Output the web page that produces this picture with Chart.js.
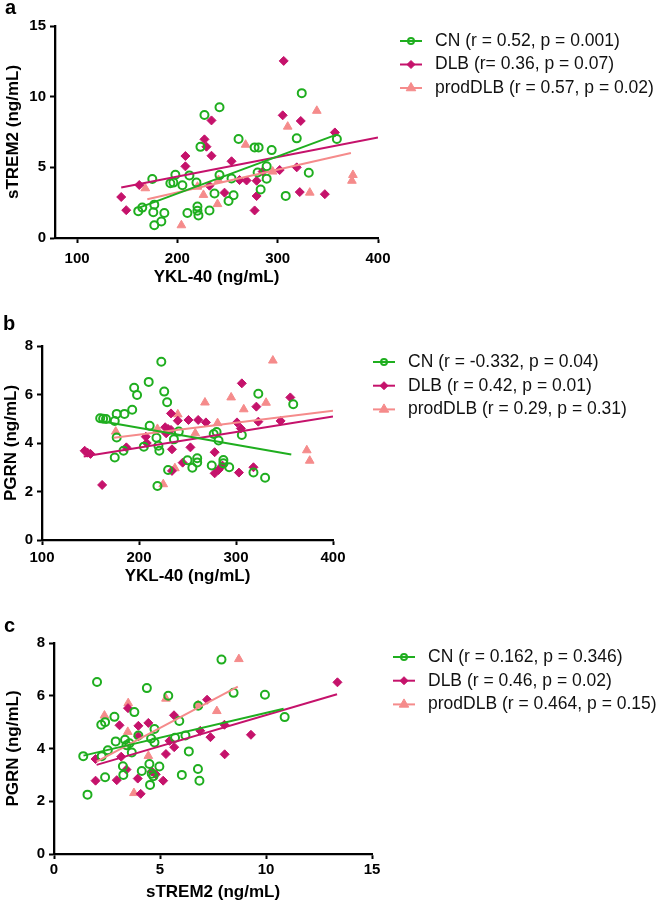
<!DOCTYPE html>
<html>
<head>
<meta charset="utf-8">
<script src="https://cdn.jsdelivr.net/npm/chart.js@4.4.0/dist/chart.umd.min.js"></script>
<style>
  body { margin: 0; background: #fff; }
  #wrap { position: relative; width: 660px; height: 903px; }
  canvas { position: absolute; left: 0; }
</style>
</head>
<body>
<div id="wrap">
  <canvas id="chartA" width="660" height="290" style="top:0px"></canvas>
  <canvas id="chartB" width="660" height="300" style="top:290px"></canvas>
  <canvas id="chartC" width="660" height="313" style="top:590px"></canvas>
</div>
<script>
// ---- panel a: YKL-40 vs sTREM2 ----
const cnYklA = [161,165,175,176,177,177,184,187,193,196,198,205,210,212,219,220,220,221,223,227,232,237,242,242,251,254,256,261,277,281,280,283,289,289,294,308,319,324,331,359]
const cnStremA = [1.9,2.15,4.17,1.82,2.36,0.9,1.17,1.77,3.87,3.92,4.47,3.73,1.77,4.43,3.92,2.22,1.93,1.6,6.45,8.7,1.95,3.15,9.25,4.45,2.62,4.21,3.02,7.0,6.41,6.41,4.63,3.43,5.07,4.2,6.22,2.98,7.05,10.25,4.62,7.0]
const dlbYklA = [144,149,162,208,208,227,229,234,234,232,247,254,262,269,279,279,277,285,302,305,306,319,322,323,347,357]
const dlbStremA = [2.9,1.97,3.75,5.8,5.07,6.98,6.46,8.32,5.82,3.7,3.21,5.43,4.1,4.07,4.05,2.97,1.95,4.7,4.81,8.68,12.53,5.0,3.25,8.28,3.1,7.47]
const prodYklA = [168,204,220,226,240,241,268,295,310,332,339,374,375]
const prodStremA = [3.52,0.9,3.63,3.05,2.4,4.1,6.6,4.7,7.88,3.21,9.0,4.05,4.46]
// regression line end points
const fitCnAX = [162,358], fitCnAY = [2.15,7.3]
const fitDlbAX = [144,400], fitDlbAY = [3.57,7.11]
const fitProdAX = [170,373], fitProdAY = [2.74,6.02]
const legendA = ['CN (r = 0.52, p = 0.001)', 'DLB (r= 0.36, p = 0.07)', 'prodDLB (r = 0.57, p = 0.02)']
const xTicksA = [100,200,300,400]
const yTicksA = [0,5,10,15]

// ---- panel b: YKL-40 vs PGRN ----
const cnYklB = [160,163,166,175,177,177,175,185,184,193,195,198,210,211,205,218,220,221,219,223,226,229,230,236,241,250,255,260,260,275,277,280,282,287,287,293,306,318,323,330,359]
const cnPgrnB = [5.02,5.0,4.99,4.91,5.2,4.23,3.4,5.2,3.68,5.37,6.28,5.98,6.52,4.71,3.85,4.22,3.89,3.68,2.23,7.35,6.12,5.68,2.89,4.15,4.47,3.29,2.98,3.37,3.2,3.07,4.37,4.45,4.1,3.3,3.16,3.0,4.33,2.78,6.03,2.57,5.6]
const dlbYklB = [144,147,150,162,187,207,208,227,228,230,233,233,234,234,240,245,251,253,261,269,278,278,282,286,301,303,306,305,318,321,323,346,356]
const dlbPgrnB = [3.68,3.6,3.55,2.27,3.82,4.26,4.0,4.65,4.4,4.58,5.22,4.54,3.74,2.85,4.92,3.19,4.95,3.82,4.95,4.85,3.62,2.75,2.89,3.07,4.85,2.78,6.46,4.6,3.0,5.5,4.88,4.91,5.88]
const prodYklB = [176,219,225,237,240,258,268,281,295,308,331,338,373,376]
const prodPgrnB = [4.47,4.58,2.3,2.96,5.18,4.4,5.67,4.82,5.88,5.39,5.66,7.4,3.7,3.27]
const fitCnBX = [160,357], fitCnBY = [4.91,3.53]
const fitDlbBX = [143,400], fitDlbBY = [3.44,5.09]
const fitProdBX = [174,400], fitProdBY = [4.22,5.33]
const legendB = ['CN (r = -0.332, p = 0.04)', 'DLB (r = 0.42, p = 0.01)', 'prodDLB (r = 0.29, p = 0.31)']
const xTicksB = [100,200,300,400]
const yTicksB = [0,2,4,6,8]

// ---- panel c: sTREM2 vs PGRN ----
const cnStremC = [1.38,1.58,2.03,2.23,2.25,2.41,2.41,2.54,2.85,2.91,3.25,3.27,3.35,3.42,3.56,3.67,3.79,3.98,4.14,4.38,4.5,4.58,4.53,4.61,4.69,4.74,4.74,4.97,5.39,5.71,5.91,6.2,6.03,6.36,6.79,6.8,6.86,7.9,8.47,9.95,10.88]
const cnPgrnC = [3.71,2.25,6.52,4.9,3.71,5.0,2.91,3.93,5.2,4.27,3.33,3.0,4.33,4.12,4.2,3.85,5.38,4.49,3.15,6.29,3.41,4.38,2.62,3.04,2.95,4.74,4.23,3.32,6.0,4.41,5.04,4.49,3.0,3.89,3.22,5.62,2.78,7.37,6.11,6.04,5.19]
const dlbStremC = [1.96,1.96,2.96,3.09,3.17,3.49,3.42,3.95,3.98,3.98,4.09,4.45,4.61,4.8,5.15,5.28,5.45,5.66,5.67,6.9,7.22,7.38,8.04,8.05,9.29,13.37]
const dlbPgrnC = [3.6,2.78,2.8,4.88,3.69,5.53,3.2,2.86,4.86,4.46,2.28,4.97,3.13,3.02,2.78,3.79,4.29,5.26,4.05,4.67,5.85,4.43,4.9,3.78,4.52,6.51]
const prodStremC = [2.38,3.5,3.48,3.77,4.45,5.28,6.8,7.68,8.72]
const prodPgrnC = [5.25,5.72,4.63,2.31,3.72,5.89,5.65,5.42,7.39]
const fitCnCX = [1.39,10.83], fitCnCY = [3.73,5.51]
const fitDlbCX = [2.01,13.35], fitDlbCY = [3.38,6.06]
const fitProdCX = [2.01,8.67], fitProdCY = [3.5,6.35]
const legendC = ['CN (r = 0.162, p = 0.346)', 'DLB (r = 0.46, p = 0.02)', 'prodDLB (r = 0.464, p = 0.15)']
const xTicksC = [0,5,10,15]
const yTicksC = [0,2,4,6,8]

const green = '#1fae1f'
const magenta = '#c5126b'
const salmon = '#f58b8b'
const family = '"Liberation Sans", Arial, sans-serif'

const zip = (xs, ys) => xs.map((x, i) => ({ x: x, y: ys[i] }))

// panel letter + GraphPad style legend (line with marker)
const panelDecor = {
    id: 'panelDecor',
    afterDraw(chart, args, opts) {
        const ctx = chart.ctx
        ctx.save()
        ctx.fillStyle = '#000'
        ctx.font = 'bold 20px ' + family
        ctx.textBaseline = 'alphabetic'
        ctx.textAlign = 'left'
        ctx.fillText(opts.letter, opts.letterX, opts.letterY)

        ctx.font = opts.legendSize + 'px ' + family
        ctx.textBaseline = 'middle'
        const items = chart.data.datasets.filter((d) => !d.isFit)
        items.forEach((d, i) => {
            const y = opts.legendY + i * opts.legendGap
            ctx.strokeStyle = d.borderColor
            ctx.lineWidth = 2
            ctx.beginPath()
            ctx.moveTo(opts.legendX, y)
            ctx.lineTo(opts.legendX + 22, y)
            ctx.stroke()
            ctx.fillStyle = d.backgroundColor
            ctx.lineWidth = d.borderWidth
            Chart.helpers.drawPoint(ctx, {
                pointStyle: d.pointStyle,
                rotation: 0,
                radius: d.legendRadius,
                borderWidth: d.borderWidth
            }, opts.legendX + 11, y)
            ctx.fillStyle = '#111'
            ctx.fillText(d.label, opts.legendX + 35, y)
        })
        ctx.restore()
    }
}

function makeDatasets(cn, dlb, prod, fits, labels) {
    return [
        { label: labels[0], data: cn, pointStyle: 'circle', pointRadius: 4, legendRadius: 3,
          borderColor: green, backgroundColor: 'rgba(0,0,0,0)', borderWidth: 2, order: 1 },
        { label: labels[1], data: dlb, pointStyle: 'rectRot', pointRadius: 4.5, legendRadius: 4,
          borderColor: magenta, backgroundColor: magenta, borderWidth: 1, order: 2 },
        { label: labels[2], data: prod, pointStyle: 'triangle', pointRadius: 5, legendRadius: 5.5,
          borderColor: salmon, backgroundColor: salmon, borderWidth: 1, order: 3 },
        { label: 'CN fit', data: fits[0], isFit: true, showLine: true, pointRadius: 0, borderColor: green, borderWidth: 2, order: 0 },
        { label: 'DLB fit', data: fits[1], isFit: true, showLine: true, pointRadius: 0, borderColor: magenta, borderWidth: 2, order: 0 },
        { label: 'prodDLB fit', data: fits[2], isFit: true, showLine: true, pointRadius: 0, borderColor: salmon, borderWidth: 2, order: 0 }
    ]
}

function axis(p) {
    return {
        type: 'linear',
        min: p.min,
        max: p.max,
        afterBuildTicks: (s) => { s.ticks = p.ticks.map((v) => ({ value: v })) },
        afterFit: (s) => { if (p.width) s.width = p.width; if (p.height) s.height = p.height },
        ticks: { color: '#000', font: { family: family, size: 15, weight: 'bold' }, padding: p.tickPad },
        grid: { drawOnChartArea: false, drawTicks: true, tickLength: 5, tickWidth: 2, tickColor: '#000' },
        border: { display: true, color: '#000', width: 2.3 },
        title: { display: true, text: p.title, color: '#000', font: { family: family, size: 17, weight: 'bold' }, padding: p.titlePad }
    }
}

function makeChart(id, p) {
    return new Chart(document.getElementById(id), {
        type: 'scatter',
        data: { datasets: p.datasets },
        options: {
            responsive: false,
            animation: false,
            events: [],
            layout: { padding: { left: 0, top: p.top, right: p.right, bottom: p.bottom } },
            plugins: { legend: { display: false }, tooltip: { enabled: false }, panelDecor: p.decor },
            scales: { x: p.x, y: p.y }
        },
        plugins: [panelDecor]
    })
}

var chart_a = makeChart('chartA', {
    datasets: makeDatasets(zip(cnYklA, cnStremA), zip(dlbYklA, dlbStremA), zip(prodYklA, prodStremA),
        [zip(fitCnAX, fitCnAY), zip(fitDlbAX, fitDlbAY), zip(fitProdAX, fitProdAY)], legendA),
    top: 26, right: 282, bottom: 2,
    x: axis({ min: 78, max: 400, ticks: xTicksA, height: 50, tickPad: 7, title: 'YKL-40 (ng/mL)', titlePad: { top: 0, bottom: 0 } }),
    y: axis({ min: 0, max: 15, ticks: yTicksA, width: 55, tickPad: 4, title: 'sTREM2 (ng/mL)', titlePad: { top: 3, bottom: 0 } }),
    decor: { letter: 'a', letterX: 5, letterY: 13.5, legendX: 400, legendY: 41, legendGap: 23.5, legendSize: 17.5 }
})

var chart_b = makeChart('chartB', {
    datasets: makeDatasets(zip(cnYklB, cnPgrnB), zip(dlbYklB, dlbPgrnB), zip(prodYklB, prodPgrnB),
        [zip(fitCnBX, fitCnBY), zip(fitDlbBX, fitDlbBY), zip(fitProdBX, fitProdBY)], legendB),
    top: 56, right: 327, bottom: 2,
    x: axis({ min: 100, max: 400, ticks: xTicksB, height: 48, tickPad: 4, title: 'YKL-40 (ng/mL)', titlePad: { top: 0, bottom: 1 } }),
    y: axis({ min: 0, max: 8, ticks: yTicksB, width: 42, tickPad: 4, title: 'PGRN (ng/mL)', titlePad: { top: 1, bottom: 0 } }),
    decor: { letter: 'b', letterX: 3, letterY: 40, legendX: 373, legendY: 72, legendGap: 23.7, legendSize: 17.5 }
})

var chart_c = makeChart('chartC', {
    datasets: makeDatasets(zip(cnStremC, cnPgrnC), zip(dlbStremC, dlbPgrnC), zip(prodStremC, prodPgrnC),
        [zip(fitCnCX, fitCnCY), zip(fitDlbCX, fitDlbCY), zip(fitProdCX, fitProdCY)], legendC),
    top: 53, right: 288, bottom: 0,
    x: axis({ min: 0, max: 15, ticks: xTicksC, height: 49, tickPad: 2, title: 'sTREM2 (ng/mL)', titlePad: { top: 0, bottom: 0 } }),
    y: axis({ min: 0, max: 8, ticks: yTicksC, width: 54, tickPad: 4, title: 'PGRN (ng/mL)', titlePad: { top: 3, bottom: 0 } }),
    decor: { letter: 'c', letterX: 4, letterY: 41.5, legendX: 393, legendY: 67, legendGap: 23.7, legendSize: 17.5 }
})
</script>
</body>
</html>
